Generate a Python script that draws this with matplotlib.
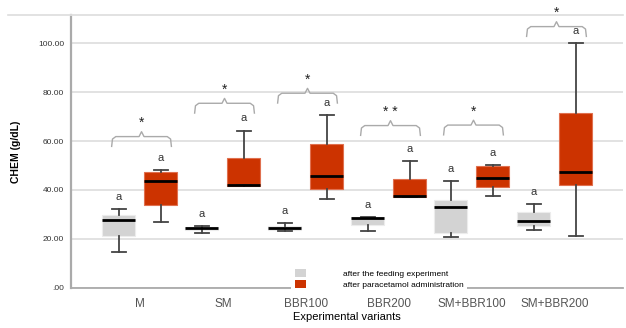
import matplotlib
matplotlib.use("Agg")
import matplotlib.pyplot as plt
from matplotlib.patches import Patch
from matplotlib.lines import Line2D

plt.rcParams["font.family"] = ["Liberation Sans", "DejaVu Sans"]

CATEGORIES = ["M", "SM", "BBR100", "BBR200", "SM+BBR100", "SM+BBR200"]

# after the feeding experiment (grey boxes)
FEED_WLO = [14.6, 22.4, 23.3, 23.3, 20.9, 23.7]
FEED_Q1 = [21.2, 23.8, 23.7, 25.7, 22.3, 25.4]
FEED_MED = [27.8, 24.4, 24.4, 28.4, 33.2, 27.5]
FEED_Q3 = [29.8, 24.8, 25.3, 28.9, 35.9, 31.2]
FEED_WHI = [32.2, 25.4, 26.4, 29.0, 43.7, 34.2]

# after paracetamol administration (red boxes)
PARA_WLO = [26.8, 42.0, 36.2, 37.3, 37.7, 21.2]
PARA_Q1 = [33.9, 41.8, 40.3, 37.3, 41.1, 42.0]
PARA_MED = [43.7, 42.2, 45.7, 37.7, 45.0, 47.2]
PARA_Q3 = [47.2, 53.1, 58.6, 44.5, 49.9, 71.6]
PARA_WHI = [48.2, 64.2, 70.6, 51.8, 50.3, 100.1]

BRACKET_Y = [61.8, 75.4, 79.5, 66.3, 66.5, 106.7]
STARS = ["*", "*", "*", "* *", "*", "*"]

GREY = "#d3d3d3"
RED = "#cc3300"


def make_stats(wlo, q1, med, q3, whi):
    return [
        {"whislo": a, "q1": b, "med": c, "q3": d, "whishi": e, "fliers": []}
        for a, b, c, d, e in zip(wlo, q1, med, q3, whi)
    ]


fig = plt.figure(figsize=(6.26, 3.28), dpi=100)
ax = fig.add_axes([0.1134, 0.122, 0.8816, 0.832])

pos = list(range(len(CATEGORIES)))
off = 0.253
width = 0.40

groups = [
    (make_stats(FEED_WLO, FEED_Q1, FEED_MED, FEED_Q3, FEED_WHI), -off, GREY, "#ececec"),
    (make_stats(PARA_WLO, PARA_Q1, PARA_MED, PARA_Q3, PARA_WHI), off, RED, "#e0704f"),
]
for stats, o, fc, ec in groups:
    ax.bxp(
        stats,
        positions=[p + o for p in pos],
        widths=width,
        patch_artist=True,
        showfliers=False,
        capwidths=0.17,
        boxprops=dict(facecolor=fc, edgecolor=ec, linewidth=0.8),
        medianprops=dict(color="black", linewidth=2),
        whiskerprops=dict(color="#444444", linewidth=1.3),
        capprops=dict(color="#444444", linewidth=1.3),
        manage_ticks=False,
    )

# "a" letters above each box
for p in pos:
    ax.text(p - off, FEED_WHI[p] + 5, "a", ha="center", va="center",
            fontsize=8, color="#333333")
    ax.text(p + off, PARA_WHI[p] + 5, "a", ha="center", va="center",
            fontsize=8, color="#333333")

# curly brackets with significance stars
for p, y, s in zip(pos, BRACKET_Y, STARS):
    c = p + 0.02
    hw = 0.36
    ax.plot([c - hw, c - hw + 0.01, c - hw + 0.05, c - 0.03, c, c + 0.03,
             c + hw - 0.05, c + hw - 0.01, c + hw],
            [y - 4, y - 1, y, y, y + 2, y, y, y - 1, y - 4],
            color="#aaaaaa", linewidth=1, clip_on=False)
    ax.text(c, y + 5.5, s, ha="center", va="center", fontsize=10,
            color="#222222", clip_on=False)

ax.set_xlim(-0.83, 5.82)
ax.set_ylim(0, 111.4)
ax.set_yticks([0, 20, 40, 60, 80, 100])
ax.set_yticklabels([".00", "20.00", "40.00", "60.00", "80.00", "100.00"],
                   fontsize=6, color="#333333")
ax.set_xticks(pos)
ax.set_xticklabels(CATEGORIES, fontsize=8.5, color="#555555")
ax.tick_params(axis="both", length=0)
ax.tick_params(axis="x", pad=7)
ax.tick_params(axis="y", pad=5)
ax.yaxis.grid(True, color="#dddddd", linewidth=1.2)
ax.set_axisbelow(True)

ax.spines["right"].set_visible(False)
ax.spines["top"].set_color("#dddddd")
ax.spines["top"].set_linewidth(1.2)
ax.spines["left"].set_color("#aaaaaa")
ax.spines["left"].set_linewidth(1.6)
ax.spines["bottom"].set_color("#aaaaaa")
ax.spines["bottom"].set_linewidth(1.3)

fig.add_artist(Line2D([8 / 626, 0.1134], [0.954, 0.954], color="#dddddd",
                      linewidth=1.2))

ax.set_ylabel("CHEM (g/dL)", fontsize=7.5, fontweight="bold", labelpad=12)
ax.set_xlabel("Experimental variants", fontsize=8, labelpad=2)

handles = [Patch(facecolor=GREY, edgecolor="none"),
           Patch(facecolor=RED, edgecolor="none")]
leg = ax.legend(handles, ["after the feeding experiment",
                          "after paracetamol administration"],
                loc="lower left", bbox_to_anchor=(0.392, -0.03),
                fontsize=6, frameon=True, fancybox=False,
                handlelength=1.3, handleheight=1.0, handletextpad=4.5,
                labelspacing=0.25, borderpad=0.4)
leg.get_frame().set_facecolor("white")
leg.get_frame().set_edgecolor("none")
leg.get_frame().set_alpha(1)

fig.savefig("out.png", dpi=100)
